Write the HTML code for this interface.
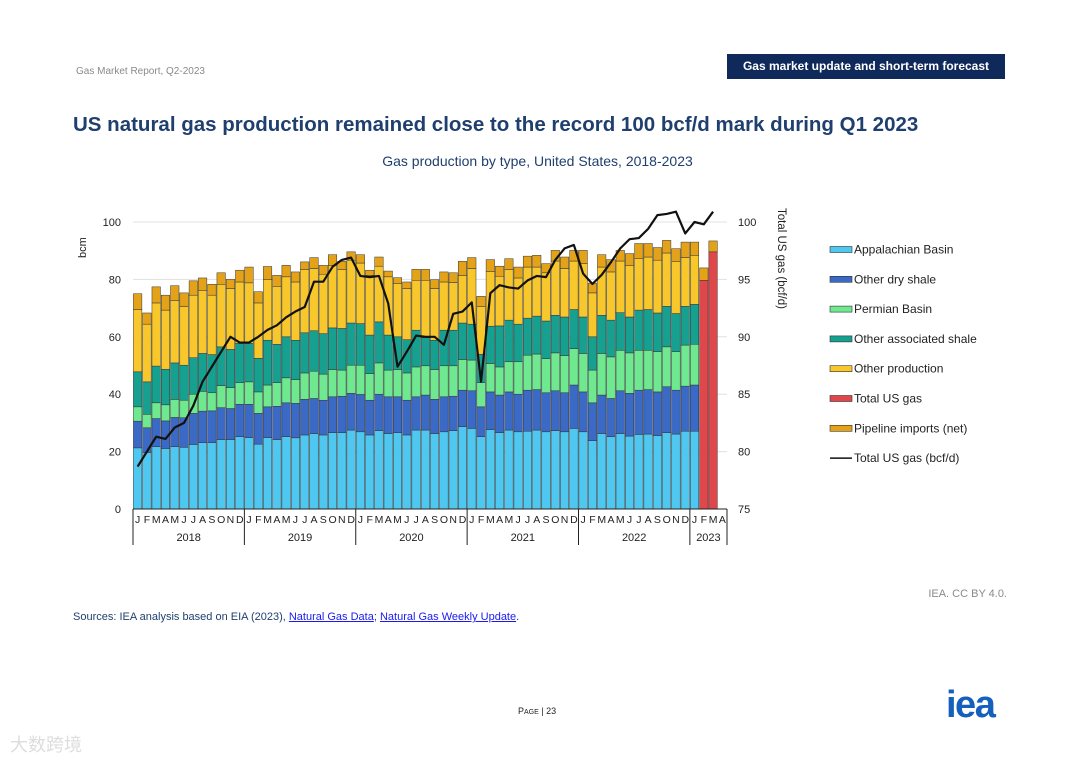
<!DOCTYPE html>
<html><head><meta charset="utf-8"><style>
body{margin:0;background:#fff;}
#page{position:relative;width:1080px;height:763px;overflow:hidden;font-family:"Liberation Sans",Arial,sans-serif;background:#fff;}
.t{position:absolute;white-space:nowrap;}
svg text{font-family:"Liberation Sans",Arial,sans-serif;}
</style></head><body>
<div id="page">
<div class="t" style="left:76px;top:66px;font-size:10px;color:#8a8a8a;">Gas Market Report, Q2-2023</div>
<div class="t" style="left:727px;top:54px;width:278px;height:25px;background:#0f2a5a;color:#fff;font-size:12px;font-weight:bold;line-height:25px;text-align:center;">Gas market update and short-term forecast</div>
<div class="t" style="left:73px;top:113px;font-size:20.5px;font-weight:bold;color:#1f3f6e;">US natural gas production remained close to the record 100 bcf/d mark during Q1 2023</div>
<div class="t" style="left:0;width:1075px;top:153px;font-size:14px;color:#1f3f6e;text-align:center;">Gas production by type, United States, 2018-2023</div>
<svg id="chart" width="1080" height="763" style="position:absolute;left:0;top:0;"></svg>
<div class="t" style="right:73px;top:588px;font-size:11px;color:#8a8a8a;">IEA. CC BY 4.0.</div>
<div class="t" style="left:73px;top:611px;font-size:11px;color:#1f3f6e;">Sources: IEA analysis based on EIA (2023), <span style="color:#1a1aee;text-decoration:underline;">Natural Gas Data</span>; <span style="color:#1a1aee;text-decoration:underline;">Natural Gas Weekly Update</span>.</div>
<div class="t" style="left:518px;top:706px;font-size:9px;color:#222;">P<span style="font-size:7px">AGE</span> | 23</div>
<div class="t" style="left:946px;top:684px;font-size:38px;font-weight:bold;color:#1560bd;letter-spacing:-1.5px;">iea</div>
<div class="t" style="left:10px;top:731px;font-size:18px;color:#ddd;">大数跨境</div>
</div>
<script>
const months=["J","F","M","A","M","J","J","A","S","O","N","D"];
const years=["2018","2019","2020","2021","2022","2023"];
const leftTicks=[0,20,40,60,80,100];
const rightTicks=[75,80,85,90,95,100];
const appalachian=[21.3,19.7,21.7,21.1,21.7,21.5,22.5,23.1,23.1,24.2,24.2,25.2,24.9,22.6,24.9,24.2,25.2,24.8,25.8,26.3,25.8,26.6,26.6,27.5,26.9,25.8,27.3,26.3,26.6,25.8,27.5,27.5,26.3,26.9,27.3,28.7,28.1,25.2,27.7,26.6,27.5,26.9,27.1,27.5,26.9,27.3,26.9,28.1,26.9,23.8,26.3,25.2,26.3,25.4,26.0,26.1,25.6,26.6,26.1,27.1,27.1,0,0,0];
const otherDryShale=[9.3,8.6,9.8,9.6,10.2,10.3,10.8,11.0,11.1,11.1,10.8,11.3,11.6,10.7,10.7,11.6,11.8,12.0,12.4,12.2,12.1,12.5,12.7,12.8,13.0,12.1,12.7,12.8,12.5,12.1,11.6,12.2,11.9,12.2,12.0,12.7,13.1,10.4,13.1,13.1,13.3,13.1,14.3,14.1,13.6,13.9,13.6,15.1,13.9,13.2,13.4,13.3,14.9,14.9,15.4,15.5,15.2,16.0,15.3,15.7,16.1,0,0,0];
const permian=[5.0,4.7,5.5,5.6,6.3,6.1,6.7,6.9,6.3,7.7,7.3,7.5,7.8,7.5,7.6,8.2,8.7,8.3,9.2,9.5,9.1,9.5,9.1,9.8,10.2,9.3,10.9,9.3,9.5,9.5,10.4,10.2,10.4,10.8,10.6,10.7,10.7,8.4,9.9,9.8,10.5,11.3,12.2,12.4,11.9,13.2,12.9,12.7,13.4,11.4,14.5,14.5,14.1,14.1,13.9,13.7,14.0,13.9,13.4,14.3,14.2,0,0,0];
const otherAssociated=[12.2,11.3,12.8,12.4,12.7,12.2,12.7,13.2,13.3,13.5,13.3,13.7,13.4,11.7,15.6,13.4,14.3,13.7,14.0,14.1,14.1,14.5,14.5,14.7,14.5,13.4,14.3,12.2,11.4,11.6,12.8,9.8,10.2,12.4,12.4,12.7,12.5,9.9,13.0,14.3,14.5,13.1,12.9,13.2,13.1,13.1,13.5,13.6,12.7,11.6,13.3,12.8,13.1,12.5,14.0,14.2,13.5,14.1,13.3,13.5,13.9,0,0,0];
const otherProduction=[21.7,20.1,22.0,20.6,21.8,20.5,21.8,22.0,20.7,21.8,21.2,21.4,21.1,19.3,21.1,20.2,20.9,20.3,22.0,21.7,20.7,21.8,20.5,21.9,21.1,20.8,19.4,20.3,18.5,17.8,17.4,20.0,18.0,16.8,16.6,16.6,19.4,16.7,19.1,17.3,17.6,16.1,17.8,17.1,16.8,18.9,16.9,16.9,18.6,15.3,16.8,16.8,18.0,18.0,17.9,18.3,18.4,18.6,18.2,17.0,17.1,0,0,0];
const totalUsGas=[0,0,0,0,0,0,0,0,0,0,0,0,0,0,0,0,0,0,0,0,0,0,0,0,0,0,0,0,0,0,0,0,0,0,0,0,0,0,0,0,0,0,0,0,0,0,0,0,0,0,0,0,0,0,0,0,0,0,0,0,0,79.7,89.6,0];
const pipelineImports=[5.5,3.9,5.6,5.2,5.1,4.7,5.0,4.3,3.8,4.0,3.2,4.1,5.5,3.9,4.6,3.8,4.0,3.5,2.7,3.8,3.1,3.7,2.9,2.9,2.9,1.8,3.2,2.0,2.1,2.3,3.8,3.8,3.1,3.5,3.4,4.9,3.8,3.5,4.1,3.5,3.8,3.8,3.8,4.1,3.2,3.7,4.0,3.7,4.6,3.4,4.3,4.3,3.7,4.1,5.3,4.7,4.4,4.4,4.4,5.4,4.6,4.3,3.8,0];
const totalBcfd=[78.7,80.0,81.3,81.1,82.1,82.5,84.0,86.1,87.4,88.7,90.0,89.5,89.5,90.0,90.6,91.0,91.7,92.2,92.6,94.8,94.8,96.1,96.7,96.9,95.3,95.2,95.3,92.9,87.4,88.7,90.1,90.0,90.0,89.3,92.0,92.2,93.0,86.1,93.8,94.5,94.3,94.2,94.9,95.3,95.2,96.7,97.7,98.0,95.5,94.6,95.4,96.5,97.7,98.5,98.6,99.4,100.6,100.7,100.9,99.0,100.0,99.8,100.9];
const NS="http://www.w3.org/2000/svg";
const svg=document.getElementById('chart');
const X0=133,X1=727,Y0=509,Ytop=222,N=64,BW=(X1-X0)/N;
const yL=v=>Y0-(v/100)*(Y0-Ytop);
const yR=v=>Y0-((v-75)/25)*(Y0-Ytop);
const xC=i=>X0+BW*(i+0.5);
function mk(tag,attrs,parent){const e=document.createElementNS(NS,tag);for(const k in attrs)e.setAttribute(k,attrs[k]);(parent||svg).appendChild(e);return e;}
leftTicks.forEach(v=>{
  if(v>0){const g=mk('line',{x1:X0,x2:X1,y1:yL(v),y2:yL(v),stroke:'#e0e0e0','stroke-width':1});
  
  }
  const t=mk('text',{x:121,y:yL(v)+4,'text-anchor':'end','font-size':11,fill:'#222'});t.textContent=v;
  
  
});
rightTicks.forEach(v=>{
  const t=mk('text',{x:738,y:yR(v)+4,'font-size':11,fill:'#222'});t.textContent=v;
  
  
});
const series=[[appalachian,'#4ec8f0'],[otherDryShale,'#3a6ac6'],[permian,'#6ee98f'],[otherAssociated,'#15a08f'],[otherProduction,'#f8c72c'],[totalUsGas,'#e0474a'],[pipelineImports,'#e4a219']];
const names=['bar-appalachian','bar-other-dry-shale','bar-permian','bar-other-associated-shale','bar-other-production','bar-total-us-gas','bar-pipeline-imports'];
for(let i=0;i<N;i++){
  let base=0;
  series.forEach((s,k)=>{
    const v=s[0][i]||0;if(v<=0)return;
    const r=mk('rect',{x:X0+BW*i+0.4,y:yL(base+v),width:BW-0.8,height:yL(base)-yL(base+v),fill:s[1],stroke:'#333','stroke-width':0.5});
    
    
    base+=v;
  });
}
const pts=totalBcfd.map((v,i)=>xC(i)+','+yR(v)).join(' ');
const pl=mk('polyline',{points:pts,fill:'none',stroke:'#111','stroke-width':2.2,'stroke-linejoin':'round'});


mk('line',{x1:X0,x2:X1,y1:Y0,y2:Y0,stroke:'#222','stroke-width':1});
for(let i=0;i<N;i++){
  const t=mk('text',{x:xC(i),y:523,'text-anchor':'middle','font-size':10.5,fill:'#222'});t.textContent=months[i%12];
  
  
}
for(let y=0;y<=years.length;y++){
  const xi=Math.min(X0+BW*12*y,X1);
  mk('line',{x1:xi,x2:xi,y1:Y0,y2:545,stroke:'#222','stroke-width':1});
  if(y<years.length){
    const xe=Math.min(X0+BW*12*(y+1),X1);
    const t=mk('text',{x:(xi+xe)/2,y:541,'text-anchor':'middle','font-size':11,fill:'#222'});t.textContent=years[y];
    
    
  }
}
const at=mk('text',{x:0,y:0,'font-size':11,fill:'#222',transform:'translate(86,258) rotate(-90)'});at.textContent='bcm';


const rt=mk('text',{x:0,y:0,'font-size':11.5,fill:'#222',transform:'translate(778,208) rotate(90)'});rt.textContent='Total US gas (bcf/d)';


const legendLabels=['Appalachian Basin','Other dry shale','Permian Basin','Other associated shale','Other production','Total US gas','Pipeline imports (net)','Total US gas (bcf/d)'];
const legendColors=['#4ec8f0','#3a6ac6','#6ee98f','#15a08f','#f8c72c','#e0474a','#e4a219',null];
legendLabels.forEach((lb,k)=>{
  const y=249.5+k*29.8;
  const g=mk('g',{});
  
  
  if(legendColors[k])mk('rect',{x:830,y:y-3,width:22,height:6,fill:legendColors[k],stroke:'#333','stroke-width':0.6},g);
  else mk('line',{x1:830,x2:852,y1:y,y2:y,stroke:'#111','stroke-width':1.5},g);
  const t=mk('text',{x:854,y:y+4,'font-size':12,fill:'#222'},g);t.textContent=lb;
});
</script>
</body></html>
